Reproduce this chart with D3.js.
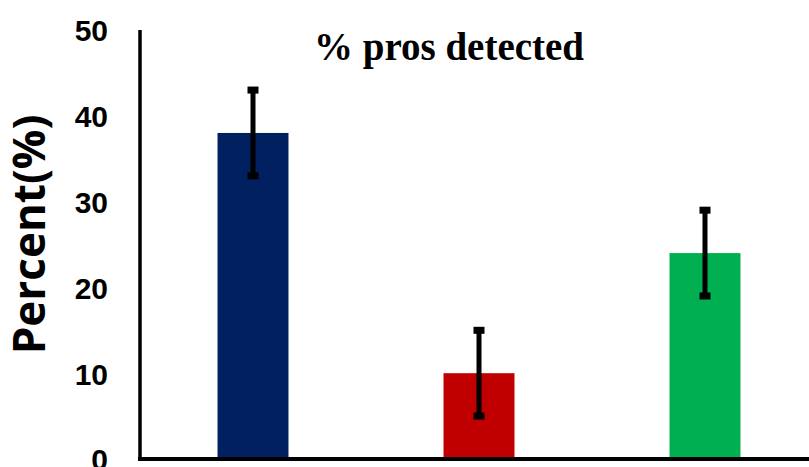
<!DOCTYPE html>
<html>
<head>
<meta charset="utf-8">
<script src="https://cdn.jsdelivr.net/npm/d3@7"></script>
<style>
  html, body { margin: 0; padding: 0; background: #fff; }
  svg { display: block; }
</style>
</head>
<body>
<svg id="chart" width="809" height="467"></svg>
<script>
// Chart data
const categories = ["A", "B", "C"];
const values = [38, 10, 24];
const errors = [5, 5, 5];
const barColors = ["#002060", "#C00000", "#00B050"];
const yTicks = [0, 10, 20, 30, 40, 50];
const titleText = "% pros detected";
const yLabelText = "Percent(%)";

const svg = d3.select("#chart");
const W = 809, H = 467;

const x = d3.scaleBand()
  .domain(categories)
  .range([140, 818])
  .paddingInner(0.686)
  .paddingOuter(0.343);

const y = d3.scaleLinear()
  .domain([0, 50])
  .range([459, 30]);

// Bars
svg.selectAll("rect.bar")
  .data(categories)
  .join("rect")
  .attr("class", "bar")
  .attr("x", d => x(d))
  .attr("width", x.bandwidth())
  .attr("y", (d, i) => y(values[i]))
  .attr("height", (d, i) => y(0) - y(values[i]))
  .attr("fill", (d, i) => barColors[i]);

// Error bars with square caps
const eb = svg.append("g");
categories.forEach((c, i) => {
  const cx = x(c) + x.bandwidth() / 2;
  const top = y(values[i] + errors[i]);
  const bot = y(values[i] - errors[i]);
  eb.append("line")
    .attr("x1", cx).attr("x2", cx)
    .attr("y1", top).attr("y2", bot)
    .attr("stroke", "#000").attr("stroke-width", 5);
  [top, bot].forEach(yy => {
    eb.append("rect")
      .attr("x", cx - 5.5).attr("width", 11)
      .attr("y", yy - 3.5).attr("height", 7)
      .attr("fill", "#000");
  });
});

// Y axis tick labels
const yAxis = d3.axisLeft(y).tickValues(yTicks).tickSize(0).tickPadding(32);
const gy = svg.append("g").attr("transform", "translate(140,0)").call(yAxis);
gy.select(".domain").remove();
gy.selectAll("text")
  .attr("font-family", "'Liberation Sans', Arial, sans-serif")
  .attr("font-weight", "bold")
  .attr("font-size", 30)
  .attr("fill", "#000")
  .attr("dy", "0.36em");

// Y axis line
svg.append("line")
  .attr("x1", 140).attr("x2", 140)
  .attr("y1", 30).attr("y2", 461)
  .attr("stroke", "#000").attr("stroke-width", 3.5);

// X axis baseline
svg.append("line")
  .attr("x1", 138).attr("x2", W)
  .attr("y1", y(0)).attr("y2", y(0))
  .attr("stroke", "#000").attr("stroke-width", 4);

// Title
svg.append("text")
  .attr("x", 449).attr("y", 60)
  .attr("text-anchor", "middle")
  .attr("font-family", "'Liberation Serif', 'Times New Roman', serif")
  .attr("font-weight", "bold")
  .attr("font-size", 39)
  .attr("fill", "#000")
  .text(titleText);

// Y axis label
svg.append("text")
  .attr("transform", "translate(45,234.5) rotate(-90)")
  .attr("text-anchor", "middle")
  .attr("font-family", "'Open Sans', sans-serif")
  .attr("font-weight", "bold")
  .attr("font-size", 44)
  .attr("fill", "#000")
  .text(yLabelText);
</script>
</body>
</html>
